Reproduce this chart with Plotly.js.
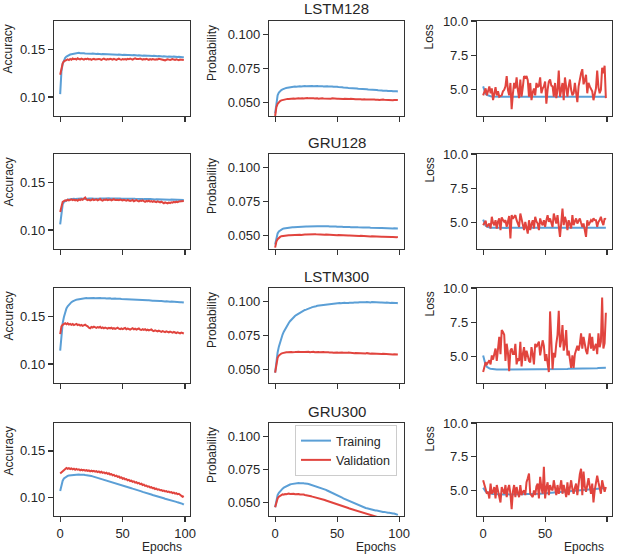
<!DOCTYPE html>
<html>
<head>
<meta charset="utf-8">
<script src="https://cdn.plot.ly/plotly-3.0.1.min.js"></script>
<style>html,body{margin:0;padding:0;background:#fff;}#chart{width:617px;height:558px;}</style>
</head>
<body>
<div id="chart"></div>
<script>
// ---------- Data ----------
const modelNames = ["LSTM128", "GRU128", "LSTM300", "GRU300"];
const metricLabels = ["Accuracy", "Probability", "Loss"];
const seriesNames = ["Training", "Validation"];
const xTickVals = [0, 50, 100];
const accTickVals = [0.10, 0.15];
const accTickText = ["0.10", "0.15"];
const probTickVals = [0.05, 0.075, 0.10];
const probTickText = ["0.050", "0.075", "0.100"];
const lossTickVals = [5, 7.5, 10];
const lossTickText = ["5.0", "7.5", "10.0"];

// LSTM128
const lstm128AccTrain = [
0.103,0.127,0.135,0.139,0.1412,0.1425,0.1435,0.1441,0.1447,0.145,
0.1453,0.1455,0.1458,0.1459,0.1462,0.1465,0.1461,0.1463,0.1458,0.1461,
0.1459,0.1457,0.146,0.1456,0.1458,0.1455,0.1457,0.1454,0.1456,0.1453,
0.1455,0.1452,0.1454,0.1451,0.1453,0.1452,0.145,0.1452,0.1449,0.1451,
0.1448,0.145,0.1447,0.1449,0.1446,0.1448,0.1445,0.1447,0.1444,0.1446,
0.1443,0.1445,0.1442,0.1444,0.1441,0.1443,0.144,0.1442,0.1439,0.1441,
0.1438,0.144,0.1437,0.1439,0.1436,0.1438,0.1435,0.1437,0.1434,0.1436,
0.1433,0.1435,0.1432,0.1434,0.1431,0.1433,0.143,0.1432,0.1429,0.1431,
0.1428,0.143,0.1427,0.1429,0.1426,0.1428,0.1425,0.1427,0.1424,0.1426,
0.1423,0.1425,0.1422,0.1424,0.1421,0.1423,0.142,0.1422,0.1419,0.1419];
const lstm128AccVal = [
0.1234,0.131,0.1355,0.1376,0.1385,0.139,0.1395,0.1388,0.14,0.1392,
0.1405,0.1398,0.1402,0.1395,0.1408,0.14,0.1396,0.1404,0.1399,0.1393,
0.1401,0.1397,0.1403,0.1395,0.14,0.1392,0.1398,0.1402,0.1396,0.1399,
0.1394,0.1401,0.1397,0.1391,0.1399,0.1404,0.1397,0.1393,0.14,0.1396,
0.1402,0.1398,0.1394,0.1401,0.1396,0.139,0.1398,0.1403,0.1396,0.1392,
0.14,0.1395,0.1399,0.1393,0.1401,0.1397,0.1404,0.1398,0.1394,0.1402,
0.1408,0.1401,0.1396,0.1399,0.1405,0.1398,0.1393,0.14,0.1396,0.1402,
0.1397,0.1391,0.1399,0.1394,0.14,0.1396,0.1392,0.1398,0.1395,0.1401,
0.1397,0.1393,0.1388,0.1382,0.1386,0.1392,0.1397,0.1393,0.1389,0.1395,
0.1399,0.1394,0.139,0.1396,0.1392,0.1388,0.1394,0.139,0.1386,0.1389];
const lstm128ProbTrain = [
0.042,0.0515,0.0553,0.0572,0.0583,0.0591,0.0596,0.0601,0.0604,0.0607,
0.0609,0.0611,0.0612,0.0614,0.0615,0.0615,0.0617,0.0616,0.0618,0.0617,
0.0619,0.0618,0.062,0.0619,0.0621,0.062,0.0621,0.0619,0.0622,0.062,
0.0621,0.062,0.0622,0.062,0.0621,0.0619,0.0621,0.0619,0.062,0.0618,
0.062,0.0618,0.0619,0.0617,0.0618,0.0616,0.0617,0.0615,0.0616,0.0614,
0.0615,0.0613,0.0614,0.0612,0.0612,0.061,0.0611,0.0609,0.0609,0.0607,
0.0607,0.0605,0.0606,0.0604,0.0604,0.0602,0.0603,0.0601,0.0601,0.0599,
0.06,0.0598,0.0598,0.0596,0.0597,0.0595,0.0595,0.0593,0.0594,0.0592,
0.0592,0.059,0.0591,0.0589,0.059,0.0588,0.0588,0.0586,0.0587,0.0585,
0.0586,0.0584,0.0585,0.0583,0.0584,0.0582,0.0583,0.0581,0.0582,0.058];
const lstm128ProbVal = [
0.040,0.0465,0.049,0.0503,0.051,0.0515,0.0518,0.052,0.0523,0.0524,
0.0526,0.0525,0.0527,0.0528,0.0527,0.0529,0.0528,0.053,0.0529,0.053,
0.0529,0.0531,0.053,0.0529,0.0531,0.053,0.0532,0.053,0.0531,0.0529,
0.0531,0.053,0.0529,0.0531,0.053,0.0528,0.053,0.0529,0.0531,0.0529,
0.0528,0.053,0.0529,0.0527,0.0529,0.0528,0.053,0.0528,0.0527,0.0529,
0.0527,0.0528,0.0526,0.0528,0.0527,0.0525,0.0527,0.0526,0.0524,0.0526,
0.0525,0.0527,0.0525,0.0524,0.0526,0.0524,0.0523,0.0525,0.0523,0.0524,
0.0522,0.0524,0.0523,0.0521,0.0523,0.0522,0.0521,0.0522,0.052,0.0522,
0.0521,0.0519,0.0521,0.052,0.0518,0.052,0.0519,0.0521,0.0519,0.0518,
0.052,0.0518,0.0517,0.0519,0.0518,0.0516,0.0518,0.0517,0.0516,0.0517];
const lstm128LossTrain = [
5.25,4.9,4.72,4.63,4.58,4.55,4.53,4.52,4.51,4.5,
4.5,4.5,4.49,4.5,4.5,4.49,4.5,4.5,4.5,4.49,
4.5,4.5,4.49,4.5,4.5,4.5,4.49,4.5,4.5,4.5,
4.49,4.5,4.5,4.5,4.49,4.5,4.5,4.5,4.5,4.49,
4.5,4.5,4.5,4.49,4.5,4.5,4.5,4.5,4.49,4.5,
4.5,4.5,4.49,4.5,4.5,4.5,4.5,4.49,4.5,4.5,
4.5,4.49,4.5,4.5,4.5,4.5,4.49,4.5,4.5,4.5,
4.49,4.5,4.5,4.5,4.5,4.49,4.5,4.5,4.5,4.5,
4.49,4.5,4.5,4.5,4.5,4.49,4.5,4.5,4.5,4.5,
4.49,4.5,4.5,4.5,4.5,4.49,4.5,4.5,4.5,4.5];
const lstm128LossVal = [
4.6,4.9,5.1,4.6,5.0,5.25,4.75,5.1,4.25,4.9,
5.2,4.6,4.9,4.5,4.55,4.6,4.9,5.0,5.25,6.0,
5.0,4.6,5.5,3.6,4.7,5.5,5.1,5.9,5.0,4.4,
5.75,4.5,5.2,6.0,5.9,6.0,5.7,4.5,5.5,4.25,
4.8,5.1,4.6,5.5,5.2,5.3,5.9,4.75,5.1,5.25,
5.6,4.0,5.0,5.6,5.75,5.3,5.25,4.5,5.5,4.4,
5.0,6.4,4.5,5.2,5.5,4.25,5.9,5.2,4.5,5.25,
5.75,5.0,4.6,4.75,5.5,4.8,4.1,5.25,5.9,6.2,
6.5,5.4,5.7,6.1,4.75,5.5,5.25,5.0,4.9,4.25,
4.8,5.1,6.4,5.2,4.75,5.0,6.6,6.2,6.75,4.4];

// GRU128
const gru128AccTrain = [
0.106,0.121,0.127,0.1295,0.1306,0.1313,0.1318,0.1321,0.1324,0.1326,
0.1325,0.1328,0.1327,0.1329,0.1328,0.133,0.1329,0.1331,0.1329,0.1331,
0.133,0.1332,0.133,0.1331,0.1333,0.1331,0.1332,0.133,0.1332,0.1331,
0.1333,0.1331,0.1332,0.133,0.1333,0.1331,0.1332,0.1334,0.1331,0.1333,
0.1331,0.1332,0.133,0.1332,0.1331,0.1333,0.1331,0.133,0.1332,0.133,
0.1331,0.1329,0.1331,0.133,0.1328,0.133,0.1329,0.1331,0.1328,0.133,
0.1328,0.1329,0.1327,0.1329,0.1326,0.1328,0.1327,0.1325,0.1327,0.1326,
0.1324,0.1326,0.1325,0.1323,0.1325,0.1324,0.1322,0.1324,0.1323,0.1321,
0.1323,0.1322,0.132,0.1322,0.1321,0.1319,0.1321,0.132,0.1318,0.132,
0.1319,0.1317,0.1319,0.1318,0.1316,0.1318,0.1317,0.1315,0.1317,0.1317];
const gru128AccVal = [
0.119,0.1265,0.1296,0.1305,0.1312,0.1308,0.1318,0.1311,0.1316,0.1322,
0.1314,0.132,0.1312,0.1317,0.1309,0.1321,0.1315,0.1324,0.1318,0.1328,
0.1342,0.132,0.1313,0.1319,0.1311,0.1316,0.1324,0.1314,0.1319,0.1322,
0.1312,0.1318,0.1326,0.1315,0.131,0.132,0.1316,0.1323,0.1314,0.1318,
0.1321,0.1313,0.1319,0.1324,0.1315,0.132,0.1317,0.1313,0.132,0.1316,
0.1311,0.1318,0.1314,0.1308,0.1316,0.1312,0.1305,0.131,0.1316,0.1303,
0.1309,0.1314,0.1306,0.1301,0.131,0.1305,0.1312,0.1302,0.1297,0.1306,
0.1301,0.1308,0.1298,0.1304,0.1296,0.1303,0.1299,0.1293,0.1301,0.1296,
0.129,0.1298,0.1287,0.1282,0.1291,0.1286,0.128,0.1289,0.1284,0.1292,
0.1288,0.1296,0.1291,0.1298,0.1293,0.1299,0.1302,0.1297,0.1303,0.1305];
const gru128ProbTrain = [
0.0433,0.049,0.0515,0.053,0.0538,0.0544,0.0548,0.0551,0.0553,0.0555,
0.0556,0.0557,0.0558,0.0559,0.056,0.056,0.0561,0.0562,0.0561,0.0563,
0.0563,0.0564,0.0563,0.0565,0.0564,0.0566,0.0565,0.0566,0.0567,0.0566,
0.0567,0.0568,0.0567,0.0569,0.0568,0.0567,0.0569,0.0568,0.0567,0.0568,
0.0567,0.0568,0.0566,0.0567,0.0566,0.0567,0.0565,0.0566,0.0565,0.0566,
0.0564,0.0565,0.0564,0.0563,0.0564,0.0563,0.0564,0.0562,0.0563,0.0562,
0.0563,0.0561,0.0562,0.0561,0.0562,0.056,0.0561,0.056,0.0561,0.0559,
0.056,0.0559,0.0558,0.0559,0.0558,0.0557,0.0558,0.0557,0.0556,0.0557,
0.0556,0.0557,0.0555,0.0556,0.0555,0.0554,0.0555,0.0554,0.0553,0.0554,
0.0553,0.0554,0.0552,0.0553,0.0552,0.0551,0.0552,0.0551,0.055,0.0551];
const gru128ProbVal = [
0.041,0.0455,0.0472,0.0483,0.0489,0.0494,0.0496,0.0497,0.0499,0.0499,
0.05,0.0501,0.0501,0.0502,0.0502,0.0503,0.0503,0.0504,0.0503,0.0505,
0.0505,0.0504,0.0506,0.0505,0.0507,0.0506,0.0507,0.0508,0.0507,0.0508,
0.0508,0.0507,0.0509,0.0508,0.0507,0.0508,0.0506,0.0507,0.0506,0.0506,
0.0505,0.0506,0.0505,0.0504,0.0505,0.0504,0.0504,0.0503,0.0504,0.0503,
0.0502,0.0503,0.0502,0.0501,0.0502,0.0501,0.05,0.0501,0.05,0.0499,
0.05,0.0499,0.0498,0.0499,0.0498,0.0497,0.0498,0.0497,0.0496,0.0497,
0.0496,0.0495,0.0496,0.0495,0.0494,0.0495,0.0494,0.0493,0.0494,0.0493,
0.0492,0.0493,0.0492,0.0491,0.0492,0.0491,0.049,0.0491,0.049,0.0489,
0.049,0.0489,0.0488,0.0489,0.0488,0.0489,0.0487,0.0488,0.0487,0.0488];
const gru128LossTrain = [
5.24,4.95,4.8,4.72,4.68,4.66,4.65,4.65,4.64,4.64,
4.64,4.64,4.63,4.64,4.64,4.63,4.64,4.64,4.64,4.63,
4.64,4.64,4.63,4.64,4.64,4.64,4.63,4.64,4.64,4.64,
4.63,4.64,4.64,4.64,4.63,4.64,4.64,4.64,4.64,4.63,
4.64,4.64,4.64,4.63,4.64,4.64,4.64,4.64,4.63,4.64,
4.64,4.64,4.63,4.64,4.64,4.64,4.64,4.63,4.64,4.64,
4.64,4.63,4.64,4.64,4.64,4.64,4.63,4.64,4.64,4.64,
4.63,4.64,4.64,4.64,4.64,4.63,4.64,4.64,4.64,4.64,
4.63,4.64,4.64,4.64,4.64,4.63,4.64,4.64,4.64,4.64,
4.63,4.64,4.64,4.64,4.64,4.63,4.64,4.64,4.64,4.64];
const gru128LossVal = [
4.83,5.0,5.15,4.71,4.85,4.95,4.59,5.44,5.0,4.83,
5.19,4.59,5.1,5.32,4.47,5.39,5.2,5.07,5.19,4.71,
5.1,5.49,3.86,5.56,5.3,5.44,5.56,5.19,4.9,4.71,
5.68,5.19,4.9,4.47,5.07,4.6,4.22,5.19,4.47,4.9,
5.19,4.59,5.44,5.1,4.95,4.47,5.32,5.0,4.83,5.19,
4.71,5.2,5.56,5.07,5.32,5.0,4.71,5.68,5.2,4.95,
5.56,4.47,3.98,5.0,6.04,4.83,5.44,5.1,4.47,5.19,
4.8,4.59,5.56,4.83,5.1,5.32,4.95,5.19,5.32,5.0,
4.71,4.95,4.5,3.98,5.19,4.83,5.0,5.19,5.07,5.32,
5.2,5.19,4.71,5.07,5.2,5.44,5.07,4.83,5.32,5.24];

// LSTM300
const lstm300AccTrain = [
0.114,0.133,0.143,0.1495,0.1545,0.1585,0.1608,0.1625,0.164,0.1651,
0.166,0.1668,0.1673,0.1677,0.168,0.1683,0.1686,0.1687,0.169,0.1691,
0.1692,0.1694,0.1693,0.1695,0.1694,0.1696,0.1694,0.1695,0.1693,0.1695,
0.1694,0.1693,0.1695,0.1692,0.1694,0.1691,0.1693,0.169,0.1692,0.1689,
0.1691,0.1688,0.169,0.1687,0.1689,0.1686,0.1688,0.1685,0.1687,0.1684,
0.1683,0.1685,0.1682,0.1684,0.1681,0.1682,0.168,0.1681,0.1678,0.168,
0.1677,0.1679,0.1676,0.1677,0.1674,0.1676,0.1673,0.1674,0.1671,0.1672,
0.167,0.1671,0.1668,0.1669,0.1666,0.1667,0.1665,0.1666,0.1663,0.1664,
0.1662,0.1663,0.166,0.1661,0.1659,0.166,0.1657,0.1658,0.1656,0.1657,
0.1655,0.1656,0.1653,0.1654,0.1652,0.1652,0.165,0.1651,0.1648,0.1647];
const lstm300AccVal = [
0.1315,0.1395,0.1412,0.1425,0.143,0.1418,0.1428,0.1415,0.1422,0.1412,
0.142,0.1409,0.1416,0.1422,0.141,0.1415,0.1404,0.1412,0.1401,0.1408,
0.1414,0.1403,0.1397,0.1382,0.1376,0.139,0.1384,0.1393,0.1386,0.138,
0.1389,0.1383,0.1391,0.1378,0.1385,0.1376,0.1384,0.1379,0.1372,0.1381,
0.1374,0.1382,0.1371,0.1378,0.1369,0.1376,0.1383,0.1372,0.1367,0.1375,
0.1368,0.1374,0.1379,0.1366,0.1373,0.1368,0.1362,0.137,0.1376,0.1365,
0.1371,0.1363,0.1369,0.1374,0.1362,0.1358,0.1366,0.136,0.1367,0.1355,
0.1361,0.1353,0.1359,0.1364,0.1352,0.1347,0.1355,0.1349,0.1343,0.1351,
0.1345,0.1339,0.1347,0.1341,0.1336,0.1344,0.1338,0.1332,0.134,0.1335,
0.1329,0.1337,0.1331,0.1326,0.1334,0.1328,0.1323,0.1331,0.1325,0.1321];
const lstm300ProbTrain = [
0.0476,0.057,0.0625,0.0668,0.0705,0.0733,0.0757,0.0778,0.0797,0.0813,
0.0828,0.0842,0.0855,0.0866,0.0876,0.0885,0.0893,0.0901,0.0907,0.0914,
0.092,0.0924,0.0929,0.0933,0.0938,0.0941,0.0946,0.0948,0.0953,0.0955,
0.0959,0.096,0.0964,0.0966,0.0969,0.097,0.0974,0.0973,0.0977,0.0976,
0.098,0.0979,0.0982,0.0981,0.0984,0.0983,0.0985,0.0984,0.0987,0.0985,
0.0988,0.0986,0.0989,0.0987,0.099,0.0988,0.0991,0.0989,0.0992,0.099,
0.0992,0.0991,0.0993,0.0991,0.0994,0.0992,0.0995,0.0993,0.0995,0.0994,
0.0996,0.0994,0.0996,0.0995,0.0997,0.0995,0.0996,0.0994,0.0996,0.0995,
0.0996,0.0994,0.0995,0.0993,0.0995,0.0993,0.0994,0.0992,0.0994,0.0992,
0.0993,0.0991,0.0993,0.099,0.0992,0.099,0.0991,0.0989,0.099,0.0988];
const lstm300ProbVal = [
0.0476,0.0552,0.0585,0.0602,0.0611,0.0617,0.062,0.0624,0.0625,0.0627,
0.0626,0.0628,0.0627,0.0629,0.0627,0.063,0.0628,0.0629,0.0627,0.063,
0.0629,0.0627,0.063,0.0628,0.0629,0.0631,0.0628,0.063,0.0627,0.0629,
0.0628,0.063,0.0627,0.0629,0.0626,0.0628,0.0627,0.0629,0.0626,0.0628,
0.0626,0.0627,0.0625,0.0627,0.0624,0.0626,0.0625,0.0623,0.0625,0.0624,
0.0625,0.0623,0.0625,0.0622,0.0624,0.0623,0.0621,0.0623,0.0622,0.0624,
0.0622,0.062,0.0622,0.0621,0.0619,0.0621,0.062,0.0622,0.0619,0.0621,
0.0619,0.0617,0.0619,0.0618,0.062,0.0617,0.0619,0.0616,0.0618,0.0617,
0.0615,0.0617,0.0616,0.0614,0.0616,0.0615,0.0613,0.0615,0.0614,0.0612,
0.0614,0.0612,0.0611,0.0613,0.0611,0.061,0.0612,0.061,0.0609,0.061];
const lstm300LossTrain = [
5.1,4.62,4.4,4.28,4.2,4.16,4.13,4.11,4.1,4.09,
4.09,4.08,4.08,4.08,4.07,4.07,4.07,4.07,4.07,4.07,
4.07,4.07,4.07,4.07,4.07,4.07,4.07,4.07,4.07,4.07,
4.07,4.07,4.07,4.07,4.07,4.07,4.07,4.07,4.07,4.07,
4.07,4.07,4.07,4.07,4.08,4.08,4.08,4.08,4.08,4.08,
4.09,4.09,4.09,4.09,4.09,4.1,4.1,4.1,4.1,4.1,
4.11,4.11,4.11,4.11,4.12,4.12,4.12,4.12,4.12,4.13,
4.13,4.13,4.13,4.14,4.14,4.14,4.14,4.15,4.15,4.15,
4.15,4.16,4.16,4.16,4.16,4.17,4.17,4.17,4.17,4.18,
4.18,4.18,4.18,4.19,4.19,4.19,4.19,4.2,4.2,4.2];
const lstm300LossVal = [
3.9,4.2,4.6,4.45,4.6,4.75,4.45,5.1,4.8,5.2,
5.6,4.7,5.5,6.45,5.2,6.95,6.8,6.6,4.7,5.95,
5.3,3.95,5.45,5.6,5.2,5.2,5.95,4.45,4.9,4.7,
6.1,4.3,5.2,5.7,4.7,5.45,5.1,4.7,4.6,5.7,
5.2,4.45,5.95,5.7,5.9,6.1,5.1,5.6,6.2,5.8,
4.7,5.2,4.6,3.9,8.3,5.5,4.1,5.3,4.95,5.95,
6.6,8.35,5.7,6.2,7.3,5.45,5.9,6.95,5.1,5.45,
4.7,4.2,5.1,4.2,5.2,5.6,5.8,5.45,5.9,6.7,
5.6,6.45,5.8,5.45,5.2,5.9,6.7,5.6,6.45,5.45,
5.7,5.95,5.2,6.7,5.7,6.1,9.3,5.6,6.0,8.2];

// GRU300
const gru300AccTrain = [
0.107,0.1145,0.118,0.1203,0.1216,0.1225,0.1231,0.1236,0.1238,0.1241,
0.1242,0.1244,0.1243,0.1246,0.1245,0.1246,0.1244,0.1245,0.1242,0.1243,
0.124,0.1239,0.1236,0.1235,0.1231,0.1229,0.1226,0.1222,0.122,0.1216,
0.1213,0.121,0.1205,0.1202,0.1197,0.1194,0.1189,0.1186,0.1181,0.1177,
0.1172,0.1169,0.1164,0.1161,0.1155,0.1152,0.1147,0.1143,0.1138,0.1134,
0.1129,0.1125,0.112,0.1117,0.1111,0.1108,0.1103,0.1099,0.1094,0.1091,
0.1085,0.1082,0.1076,0.1073,0.1068,0.1065,0.1059,0.1056,0.1051,0.1048,
0.1042,0.1039,0.1034,0.1031,0.1026,0.1023,0.1018,0.1015,0.101,0.1007,
0.1002,0.0999,0.0994,0.0991,0.0986,0.0983,0.0979,0.0976,0.0971,0.0968,
0.0963,0.096,0.0955,0.0952,0.0947,0.0944,0.094,0.0935,0.0931,0.0922];
const gru300AccVal = [
0.1257,0.1268,0.1281,0.1296,0.131,0.1317,0.1308,0.1314,0.1305,0.1311,
0.1302,0.1309,0.1298,0.1306,0.1297,0.1301,0.1292,0.1299,0.129,0.1296,
0.1287,0.1294,0.1285,0.1291,0.1281,0.1288,0.1279,0.1285,0.1276,0.1282,
0.1272,0.1279,0.1268,0.1275,0.1264,0.127,0.1259,0.1265,0.1253,0.1259,
0.1246,0.1251,0.1238,0.1243,0.1229,0.1234,0.122,0.1225,0.1211,0.1215,
0.1201,0.1206,0.1193,0.1197,0.1184,0.1189,0.1176,0.118,0.1168,0.1172,
0.1159,0.1163,0.1151,0.1156,0.1142,0.1147,0.1133,0.1138,0.1124,0.1128,
0.1115,0.1119,0.1107,0.111,0.1099,0.1102,0.109,0.1094,0.1083,0.1087,
0.1077,0.108,0.107,0.1074,0.1064,0.1068,0.1058,0.1062,0.1053,0.1057,
0.1047,0.1052,0.1041,0.1046,0.1035,0.1039,0.1028,0.1019,0.1006,0.1013];
const gru300ProbTrain = [
0.0466,0.0525,0.0557,0.0575,0.0588,0.0598,0.0606,0.0613,0.0619,0.0625,
0.063,0.0634,0.0637,0.064,0.0642,0.0644,0.0645,0.0647,0.0646,0.0648,
0.0647,0.0648,0.0646,0.0647,0.0644,0.0645,0.0642,0.0641,0.0638,0.0637,
0.0634,0.0632,0.0628,0.0626,0.0622,0.062,0.0615,0.0612,0.0608,0.0605,
0.06,0.0597,0.0592,0.0588,0.0584,0.058,0.0575,0.0571,0.0566,0.0562,
0.0557,0.0553,0.0548,0.0543,0.0539,0.0533,0.0529,0.0524,0.052,0.0514,
0.051,0.0505,0.0501,0.0496,0.0492,0.0487,0.0484,0.0479,0.0476,0.0472,
0.0469,0.0466,0.0463,0.046,0.0458,0.0455,0.0453,0.045,0.0449,0.0446,
0.0445,0.0442,0.0441,0.0438,0.0437,0.0434,0.0434,0.0431,0.0431,0.0428,
0.0428,0.0425,0.0425,0.0422,0.0422,0.0419,0.0419,0.0416,0.0415,0.0408];
const gru300ProbVal = [
0.0466,0.051,0.0532,0.0545,0.0552,0.0558,0.0563,0.0561,0.0566,0.0564,
0.0568,0.0569,0.0566,0.0568,0.0565,0.0567,0.0564,0.0566,0.0563,0.0565,
0.0562,0.0563,0.056,0.0561,0.0558,0.0557,0.0554,0.0553,0.055,0.0549,
0.0546,0.0544,0.0541,0.0538,0.0536,0.0533,0.053,0.0528,0.0525,0.0522,
0.052,0.0517,0.0514,0.0512,0.0508,0.0506,0.0503,0.05,0.0497,0.0494,
0.0491,0.0488,0.0484,0.0481,0.0477,0.0474,0.047,0.0467,0.0463,0.046,
0.0456,0.0453,0.0449,0.0446,0.0442,0.0439,0.0436,0.0433,0.043,0.0427,
0.0424,0.0421,0.0419,0.0416,0.0414,0.0411,0.0409,0.0406,0.0404,0.0401,
0.0399,0.0396,0.0394,0.0391,0.0389,0.0386,0.0384,0.0382,0.038,0.0378,
0.0376,0.0374,0.0372,0.037,0.0368,0.0367,0.0365,0.0364,0.0362,0.036];
const gru300LossTrain = [
5.2,5.02,4.92,4.86,4.82,4.79,4.77,4.75,4.74,4.73,
4.72,4.72,4.71,4.71,4.7,4.7,4.7,4.7,4.7,4.7,
4.7,4.7,4.7,4.7,4.7,4.7,4.7,4.7,4.7,4.7,
4.7,4.7,4.7,4.7,4.71,4.71,4.71,4.72,4.72,4.72,
4.73,4.73,4.74,4.74,4.75,4.75,4.76,4.77,4.77,4.78,
4.79,4.79,4.8,4.81,4.82,4.82,4.83,4.84,4.85,4.85,
4.86,4.87,4.88,4.88,4.89,4.9,4.91,4.92,4.92,4.93,
4.94,4.95,4.96,4.96,4.97,4.98,4.99,5.0,5.0,5.01,
5.02,5.03,5.04,5.04,5.05,5.06,5.07,5.08,5.08,5.09,
5.1,5.11,5.12,5.12,5.13,5.14,5.15,5.16,5.17,5.18];
const gru300LossVal = [
5.75,5.5,5.1,4.75,4.9,4.4,5.5,4.75,4.9,5.25,
4.4,5.4,5.0,4.65,4.1,5.25,4.9,4.75,5.4,4.5,
5.1,5.4,4.75,3.6,4.9,5.4,4.5,5.25,4.8,4.5,
5.4,4.65,4.9,5.0,4.65,5.6,5.9,6.25,4.75,4.6,
4.5,5.0,4.65,5.3,5.5,4.4,6.0,5.2,4.75,6.75,
4.4,5.2,5.6,4.65,5.4,5.1,5.0,5.75,5.2,4.65,
5.4,4.75,5.2,5.75,4.75,5.4,5.0,4.5,5.6,4.65,
5.2,5.75,5.1,4.75,5.2,5.5,4.65,5.6,6.2,6.6,
4.65,6.4,5.3,4.9,5.5,5.9,5.3,4.75,5.5,4.1,
5.0,5.5,6.1,5.6,5.2,4.75,5.75,5.25,4.9,5.25];

// ---------- Figure construction ----------
const panelSeries = [
  [[lstm128AccTrain, lstm128AccVal], [lstm128ProbTrain, lstm128ProbVal], [lstm128LossTrain, lstm128LossVal]],
  [[gru128AccTrain, gru128AccVal], [gru128ProbTrain, gru128ProbVal], [gru128LossTrain, gru128LossVal]],
  [[lstm300AccTrain, lstm300AccVal], [lstm300ProbTrain, lstm300ProbVal], [lstm300LossTrain, lstm300LossVal]],
  [[gru300AccTrain, gru300AccVal], [gru300ProbTrain, gru300ProbVal], [gru300LossTrain, gru300LossVal]]
];

const W = 617, H = 558;
const colPx = [[54, 190], [269, 404], [477, 612]];
const rowPx = [[21, 116], [154, 249], [288, 383], [423, 516]];
const yRanges = [[0.08, 0.18], [0.04, 0.11], [3.1, 10]];
const yTickVals = [accTickVals, probTickVals, lossTickVals];
const yTickText = [accTickText, probTickText, lossTickText];
const yLabelShift = [-46, -57, -48];
const colors = ["#5b9fd6", "#e1443e"];
const textColor = "#262626";
const fontFamily = "Liberation Sans, Arial, sans-serif";

const traces = [];
const layout = {
  width: W, height: H, autosize: false,
  margin: {l: 0, r: 0, t: 0, b: 0},
  paper_bgcolor: "#ffffff", plot_bgcolor: "#ffffff",
  font: {family: fontFamily, size: 13, color: textColor},
  showlegend: true,
  legend: {
    x: 295 / W, y: 1 - 425 / H, xanchor: "left", yanchor: "top",
    bgcolor: "rgba(255,255,255,0.9)", bordercolor: "#cccccc", borderwidth: 1,
    font: {family: fontFamily, size: 12.5, color: textColor},
    tracegroupgap: 0
  },
  annotations: []
};

for (let r = 0; r < 4; r++) {
  for (let c = 0; c < 3; c++) {
    const id = r * 3 + c + 1;
    const xa = "x" + (id === 1 ? "" : id);
    const ya = "y" + (id === 1 ? "" : id);
    const xKey = "xaxis" + (id === 1 ? "" : id);
    const yKey = "yaxis" + (id === 1 ? "" : id);
    const isLegendPanel = (r === 3 && c === 1);
    panelSeries[r][c].forEach((vals, s) => {
      traces.push({
        type: "scatter", mode: "lines",
        x: vals.map((_, i) => i), y: vals,
        xaxis: xa, yaxis: ya,
        name: seriesNames[s],
        showlegend: isLegendPanel,
        line: {color: colors[s], width: 2},
        hoverinfo: "skip"
      });
    });
    const axCommon = {
      showgrid: false, zeroline: false, showline: true, mirror: true,
      linecolor: "#333333", linewidth: 1.2,
      ticks: "outside", ticklen: 5, tickwidth: 1.2, tickcolor: "#333333",
      tickfont: {family: fontFamily, size: 13, color: textColor}
    };
    layout[xKey] = Object.assign({}, axCommon, {
      domain: [colPx[c][0] / W, colPx[c][1] / W],
      anchor: ya, range: [-4.95, 103.95],
      tickmode: "array", tickvals: xTickVals, ticktext: xTickVals.map(String),
      showticklabels: r === 3, fixedrange: true
    });
    layout[yKey] = Object.assign({}, axCommon, {
      domain: [1 - rowPx[r][1] / H, 1 - rowPx[r][0] / H],
      anchor: xa, range: yRanges[c],
      tickmode: "array", tickvals: yTickVals[c], ticktext: yTickText[c],
      fixedrange: true
    });
    // y-axis label (top aligned)
    layout.annotations.push({
      text: metricLabels[c], textangle: -90, showarrow: false,
      xref: xa + " domain", yref: ya + " domain", x: 0, y: 1,
      xanchor: "center", yanchor: "top", xshift: yLabelShift[c], yshift: -2,
      font: {family: fontFamily, size: 12, color: textColor}
    });
    // x-axis label on bottom row (right aligned)
    if (r === 3) {
      layout.annotations.push({
        text: "Epochs", showarrow: false,
        xref: xa + " domain", yref: "paper", x: 1, y: 1 - 547 / H,
        xanchor: "right", yanchor: "middle", xshift: -6,
        font: {family: fontFamily, size: 12, color: textColor}
      });
    }
    // model title above the middle column
    if (c === 1) {
      layout.annotations.push({
        text: modelNames[r], showarrow: false,
        xref: xa + " domain", yref: ya + " domain", x: 0.5, y: 1,
        xanchor: "center", yanchor: "middle", yshift: 12,
        font: {family: fontFamily, size: 15, color: textColor}
      });
    }
  }
}

Plotly.newPlot("chart", traces, layout, {staticPlot: true, displayModeBar: false});
</script>
</body>
</html>
